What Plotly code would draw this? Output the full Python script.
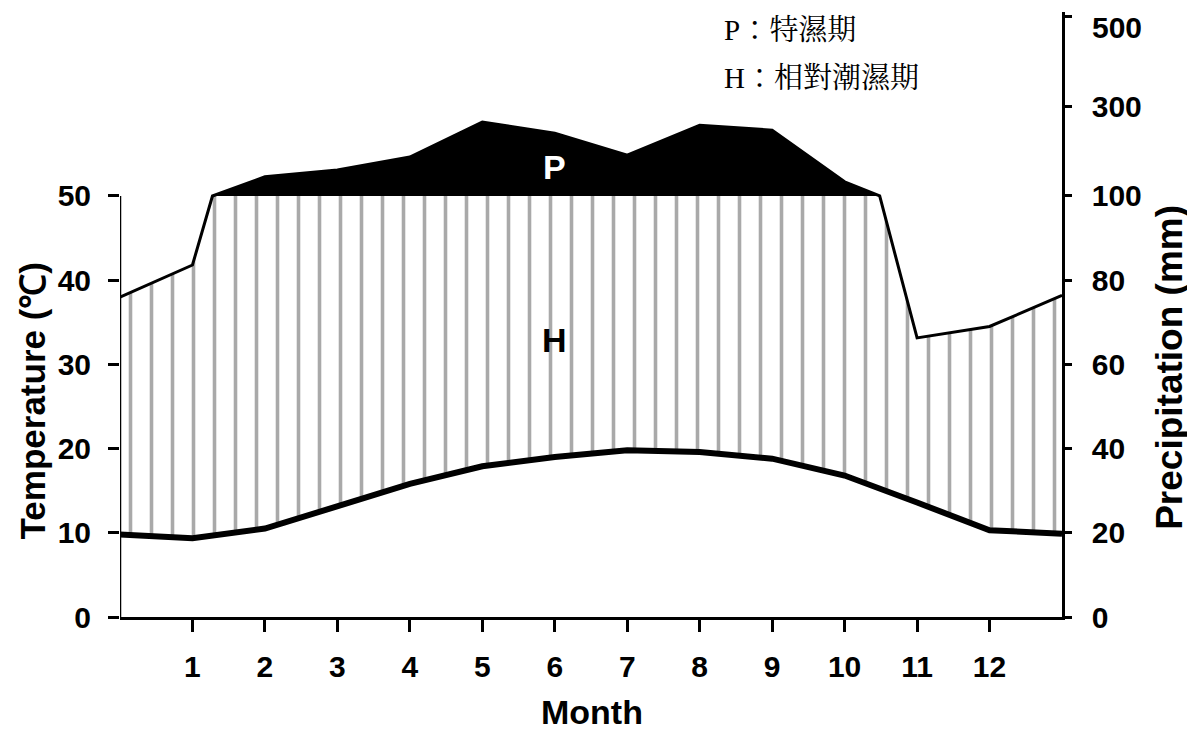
import plotly.graph_objects as go

# ---- data ----
months = [0, 1, 2, 3, 4, 5, 6, 7, 8, 9, 10, 11, 12, 13]
temperature = [9.8, 9.35, 10.5, 13.2, 15.8, 17.9, 19.0, 19.8, 19.6, 18.8, 16.8, 13.6, 10.3, 9.9]
precip_mm = [76, 83.6, 143, 158, 187, 265, 240, 191, 258, 247, 131.6, 66.3, 69, 76.4]

tick_months = [1, 2, 3, 4, 5, 6, 7, 8, 9, 10, 11, 12]
temp_ticks = [0, 10, 20, 30, 40, 50]
precip_ticks = [0, 20, 40, 60, 80, 100, 300, 500]

K = 18.8  # mm per unit above 100 mm (compressed scale)


def p_to_axis(p):
    return p / 2.0 if p <= 100 else 50 + (p - 100) / K


# insert the points where precipitation crosses 100 mm (scale break)
px, pv = [], []
for i in range(len(months)):
    if i > 0:
        a, b = precip_mm[i - 1], precip_mm[i]
        if (a - 100) * (b - 100) < 0:
            t = (100 - a) / (b - a)
            px.append(months[i - 1] + t * (months[i] - months[i - 1]))
            pv.append(100.0)
    px.append(months[i])
    pv.append(precip_mm[i])

p_axis = [p_to_axis(v) for v in pv]
p_humid_top = [min(v, 50) for v in p_axis]

# perhumid segment (>= 100 mm)
wet_idx = [i for i, v in enumerate(pv) if v >= 100]
i0, i1 = wet_idx[0], wet_idx[-1]
wet_x = px[i0:i1 + 1]
wet_y = p_axis[i0:i1 + 1]

fig = go.Figure()

# humid (H) hatched region
fig.add_trace(go.Scatter(x=months, y=temperature, mode="lines",
                         line=dict(color="black", width=0), showlegend=False,
                         hoverinfo="skip"))
fig.add_trace(go.Scatter(x=px, y=p_humid_top, mode="lines",
                         line=dict(color="black", width=0), fill="tonexty",
                         fillcolor="white",
                         fillpattern=dict(shape="|", size=21, solidity=0.17,
                                          fgcolor="#a9a9a9", bgcolor="white",
                                          fillmode="replace"),
                         showlegend=False, hoverinfo="skip"))

# perhumid (P) black region above 100 mm
fig.add_trace(go.Scatter(x=[wet_x[0], wet_x[-1]], y=[50, 50], mode="lines",
                         line=dict(color="black", width=0), showlegend=False,
                         hoverinfo="skip"))
fig.add_trace(go.Scatter(x=wet_x, y=wet_y, mode="lines",
                         line=dict(color="black", width=0), fill="tonexty",
                         fillcolor="black", showlegend=False, hoverinfo="skip"))

# precipitation line (right axis, same scale)
fig.add_trace(go.Scatter(x=px, y=p_axis, mode="lines", yaxis="y2",
                         line=dict(color="black", width=3), showlegend=False))

# temperature line
fig.add_trace(go.Scatter(x=months, y=temperature, mode="lines",
                         line=dict(color="black", width=6), showlegend=False))

YMAX = 71.85
tickfont = dict(family="Liberation Sans, Arial", size=30, color="black", weight="bold")

# right-axis labels; the top one (500) is written just below its tick as in the reference
right_text = [str(v) for v in precip_ticks[:-1]] + [""]

# page body has an 8px margin; size the figure so the plot lands where the reference is
fig.update_layout(
    width=1187, height=723,
    margin=dict(l=112, r=133, t=4, b=114, autoexpand=False),
    paper_bgcolor="white", plot_bgcolor="white",
    xaxis=dict(range=[0, 13], tickvals=tick_months, ticks="outside", ticklen=12,
               tickwidth=2.5, tickcolor="black", showline=True, linewidth=2.5,
               linecolor="black", showgrid=False, zeroline=False,
               tickfont=tickfont, ticklabelstandoff=9, automargin=False),
    yaxis=dict(range=[0, YMAX], tickvals=temp_ticks, ticks="outside", ticklen=11,
               tickwidth=2.5, tickcolor="black", showline=False, showgrid=False,
               zeroline=False, tickfont=tickfont, ticklabelstandoff=11,
               automargin=False),
    yaxis2=dict(range=[0, YMAX], overlaying="y", side="right",
                tickvals=[p_to_axis(v) for v in precip_ticks],
                ticktext=right_text,
                ticks="outside", ticklen=7, tickwidth=2.5, tickcolor="black",
                showline=True, linewidth=2.5, linecolor="black", showgrid=False,
                zeroline=False, tickfont=tickfont, ticklabelstandoff=14,
                ticklabeloverflow="allow", automargin=False),
)

fig.add_annotation(text=str(precip_ticks[-1]), xref="paper", yref="y",
                   x=1.0297, y=70.0, xanchor="left", yanchor="middle",
                   showarrow=False, font=tickfont)

# left axis line only up to 50
fig.add_shape(type="line", xref="x", yref="y", x0=0, x1=0, y0=0, y1=50,
              line=dict(color="black", width=2.5))

title_font = dict(family="Liberation Sans, Arial", color="black", weight="bold")
fig.add_annotation(text="Temperature (℃)", xref="paper", yref="y",
                   x=-0.0934, y=25.6, textangle=-90, showarrow=False,
                   xanchor="center", yanchor="middle",
                   font=dict(size=35, **title_font))
fig.add_annotation(text="Precipitation (mm)", xref="paper", yref="y",
                   x=1.1147, y=29.6, textangle=-90, showarrow=False,
                   xanchor="center", yanchor="middle",
                   font=dict(size=37, **title_font))
fig.add_annotation(text="Month", xref="x", yref="paper", x=6.51, y=-0.157,
                   showarrow=False, xanchor="center", yanchor="middle",
                   font=dict(size=34, **title_font))

fig.add_annotation(text="P", x=6.0, y=53.4, showarrow=False,
                   xanchor="center", yanchor="middle",
                   font=dict(size=34, family="Liberation Sans, Arial",
                             color="white", weight="bold"))
fig.add_annotation(text="H", x=6.0, y=32.9, showarrow=False,
                   xanchor="center", yanchor="middle",
                   font=dict(size=34, family="Liberation Sans, Arial",
                             color="black", weight="bold"))

legend_font = dict(size=29, family="Liberation Serif, Noto Serif CJK TC, Noto Sans CJK TC",
                   color="black")
fig.add_annotation(text="P：特濕期", x=8.31, y=69.7, xanchor="left", yanchor="middle",
                   showarrow=False, font=legend_font)
fig.add_annotation(text="H：相對潮濕期", x=8.31, y=64.0, xanchor="left", yanchor="middle",
                   showarrow=False, font=legend_font)

fig.write_html("out.html")
